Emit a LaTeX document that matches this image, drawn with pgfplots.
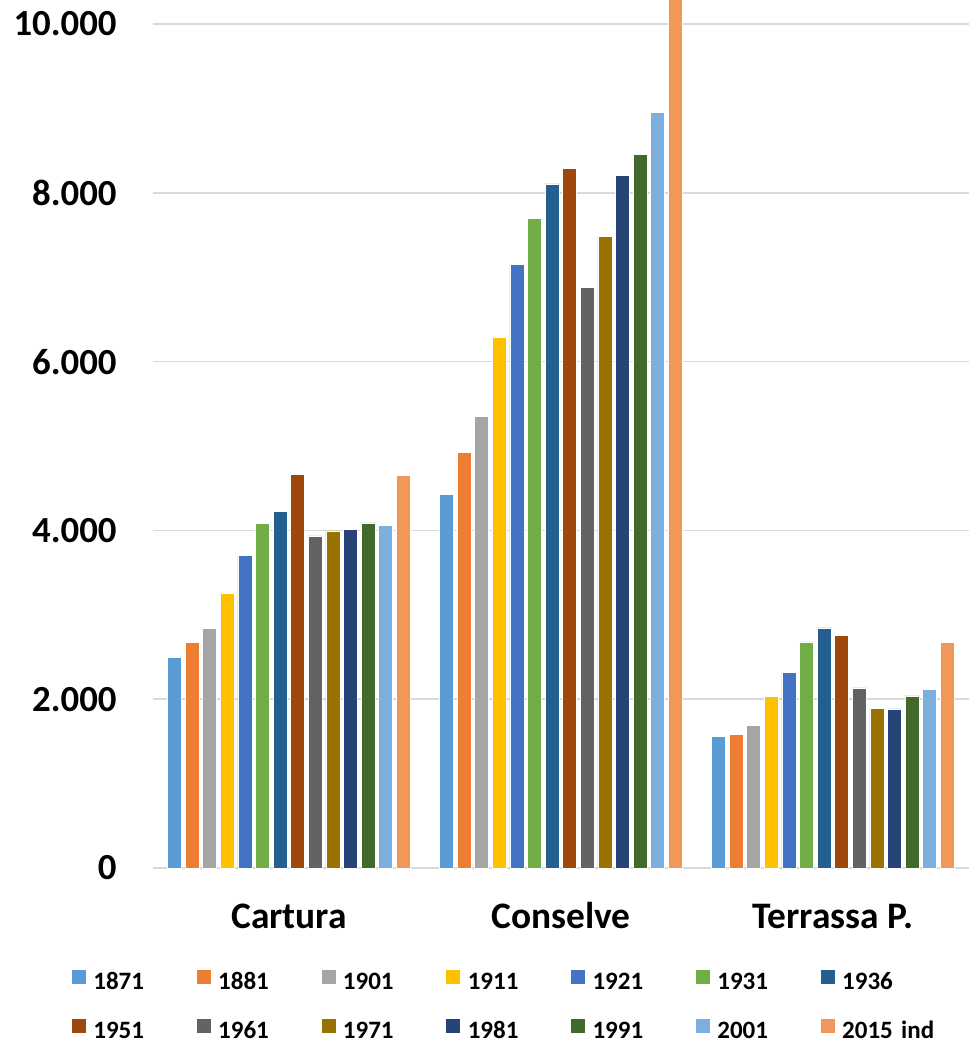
\documentclass[border=0pt]{standalone}
\usepackage{pgfplots}
\pgfplotsset{compat=1.18}
\usepackage{fontspec}
\setmainfont{Carlito}
\definecolor{c1871}{HTML}{5B9BD5}
\definecolor{c1881}{HTML}{ED7D31}
\definecolor{c1901}{HTML}{A5A5A5}
\definecolor{c1911}{HTML}{FFC000}
\definecolor{c1921}{HTML}{4472C4}
\definecolor{c1931}{HTML}{70AD47}
\definecolor{c1936}{HTML}{255E91}
\definecolor{c1951}{HTML}{9E480E}
\definecolor{c1961}{HTML}{636363}
\definecolor{c1971}{HTML}{997300}
\definecolor{c1981}{HTML}{264478}
\definecolor{c1991}{HTML}{43682B}
\definecolor{c2001}{HTML}{7CAFDD}
\definecolor{c2015}{HTML}{F1975A}
\definecolor{gridgray}{HTML}{D9D9D9}
\begin{document}
\begin{tikzpicture}
\path[use as bounding box] (-76.5pt,-86pt) rectangle (408pt,434pt);
\begin{axis}[
  at={(0,0)}, anchor=south west,
  scale only axis, width=408pt, height=434pt,
  xmin=-0.5, xmax=2.5, ymin=0, ymax=10284,
  ybar=1.8pt, bar width=7pt,
  xtick={0,1,2}, xticklabels={Cartura,Conselve,Terrassa P.},
  ytick={0,2000,4000,6000,8000,10000},
  yticklabels={0,2.000,4.000,6.000,8.000,10.000},
  axis line style={draw=none}, major tick length=0pt,
  ymajorgrids, grid style={draw=gridgray, line width=0.8pt},
  xticklabel style={font=\fontsize{18.7}{21}\selectfont\bfseries, anchor=base, yshift=-30pt, inner sep=0pt},
  yticklabel style={font=\fontsize{18.4}{21}\selectfont\bfseries, anchor=east, xshift=-18pt, inner sep=0pt},
  legend columns=7,
  legend image code/.code={\fill[#1,draw=none] (0pt,0pt) rectangle (7pt,7pt);},
  legend style={at={(axis description cs:-0.0993,-0.1175)}, anchor=north west,
    draw=none, inner sep=0pt, outer sep=0pt, row sep=11.5pt,
    font=\fontsize{12.5}{14}\selectfont\bfseries,
    nodes={inner sep=0pt, text width=51.7pt, align=left, text height=9pt, text depth=3pt},
    /tikz/every odd column/.append style={column sep=3.7pt}},
  every axis plot/.append style={draw=white, line width=0.4pt},
]
\addplot[fill=c1871] coordinates {(0,2490) (1,4431) (2,1556)};
\addplot[fill=c1881] coordinates {(0,2670) (1,4920) (2,1580)};
\addplot[fill=c1901] coordinates {(0,2835) (1,5347) (2,1686)};
\addplot[fill=c1911] coordinates {(0,3255) (1,6288) (2,2034)};
\addplot[fill=c1921] coordinates {(0,3700) (1,7148) (2,2319)};
\addplot[fill=c1931] coordinates {(0,4080) (1,7698) (2,2678)};
\addplot[fill=c1936] coordinates {(0,4226) (1,8104) (2,2844)};
\addplot[fill=c1951] coordinates {(0,4665) (1,8290) (2,2752)};
\addplot[fill=c1961] coordinates {(0,3934) (1,6880) (2,2133)};
\addplot[fill=c1971] coordinates {(0,3993) (1,7480) (2,1888)};
\addplot[fill=c1981] coordinates {(0,4008) (1,8207) (2,1884)};
\addplot[fill=c1991] coordinates {(0,4088) (1,8452) (2,2038)};
\addplot[fill=c2001] coordinates {(0,4060) (1,8957) (2,2113)};
\addplot[fill=c2015] coordinates {(0,4653) (1,11000) (2,2674)};
\legend{1871,1881,1901,1911,1921,1931,1936,1951,1961,1971,1981,1991,2001,2015 ind}
\end{axis}
\end{tikzpicture}
\end{document}
